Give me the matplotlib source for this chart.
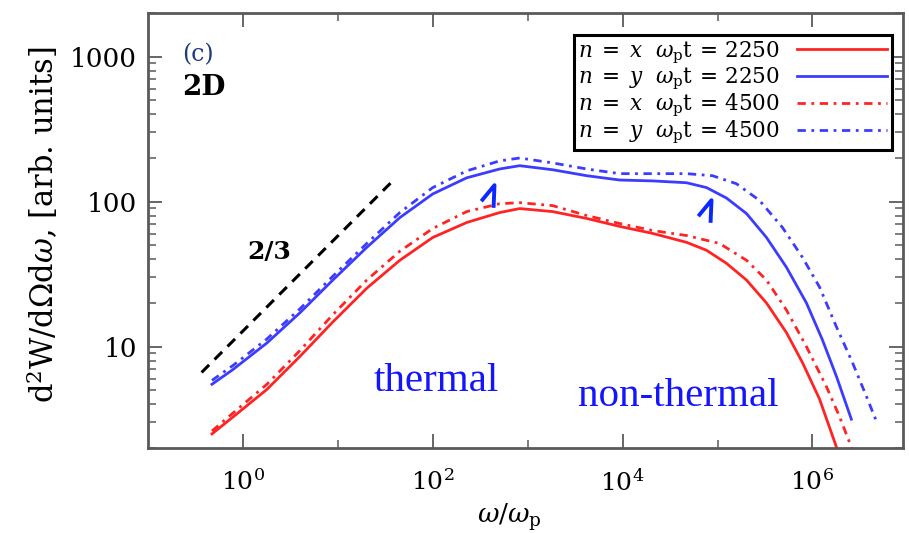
import matplotlib.pyplot as plt
from matplotlib.path import Path
from matplotlib.ticker import NullFormatter, FixedLocator, LogLocator
import numpy as np

plt.rcParams['font.family'] = ['DejaVu Serif']
plt.rcParams['mathtext.fontset'] = 'dejavuserif'

# omega / omega_p positions (shared by all four curves)
omega = [0.472, 0.785, 1.79, 3.98, 8.86, 20.2, 45.0, 100, 228, 507, 824,
         1830, 4180, 9300, 2.07e4, 4.72e4]

# n=x, w_p t=2250 (red solid)
red_2250_x = omega + [7.66e4, 1.24e5, 2.02e5, 3.28e5, 5.32e5, 7.85e5, 1.19e6, 1.79e6, 2.17e6]
red_2250_y = [2.50, 3.27, 5.07, 8.55, 14.8, 25.3, 39.4, 56.6, 71.8, 84.1, 89.6,
              85.4, 76.6, 67.5, 60.4, 52.4,
              46.2, 37.6, 28.8, 20.0, 12.5, 7.77, 4.34, 2.03, 1.44]
# n=y, w_p t=2250 (blue solid)
blue_2250_x = omega + [7.66e4, 1.24e5, 2.02e5, 3.28e5, 5.32e5, 8.65e5, 1.27e6, 1.79e6, 2.57e6]
blue_2250_y = [5.50, 6.95, 10.6, 17.1, 28.8, 48.4, 77.6, 113, 146, 168, 177,
               166, 151, 141, 139, 135,
               125, 106, 82.8, 56.6, 35.3, 20.0, 11.2, 6.24, 3.16]
# n=x, w_p t=4500 (red dash-dot)
red_4500_x = omega + [1.05e5, 2.02e5, 3.28e5, 5.32e5, 8.65e5, 1.40e6, 1.92e6, 2.57e6, 2.98e6]
red_4500_y = [2.62, 3.48, 5.50, 9.39, 16.6, 28.8, 45.5, 65.3, 85.4, 96.8, 98.4,
              93.9, 80.2, 70.7, 63.2, 58.4,
              51.5, 39.4, 28.8, 17.9, 10.0, 5.32, 3.32, 2.03, 1.48]
# n=y, w_p t=4500 (blue dash-dot)
blue_4500_x = omega + [8.85e4, 1.58e5, 2.77e5, 4.83e5, 7.85e5, 1.19e6, 1.79e6, 2.64e6, 3.70e6, 4.72e6]
blue_4500_y = [5.85, 7.41, 11.3, 18.2, 30.6, 51.5, 84.1, 125, 163, 191, 200,
               185, 168, 156, 156, 156,
               151, 133, 102, 66.4, 41.3, 25.7, 13.7, 7.77, 4.55, 3.06]

# 2/3 reference slope
slope_x = [0.367, 37.9]
slope_y = [6.64, 139]

# small arrows marking the thermal and non-thermal humps
arrow_x = [439, 8.55e4]
arrow_y = [110, 86.8]

labels = [r'$n\;=\;x$  $\omega_{\rm p}{\rm t}\,=\,2250$',
          r'$n\;=\;y$  $\omega_{\rm p}{\rm t}\,=\,2250$',
          r'$n\;=\;x$  $\omega_{\rm p}{\rm t}\,=\,4500$',
          r'$n\;=\;y$  $\omega_{\rm p}{\rm t}\,=\,4500$']

red = '#ff2424'
blue = '#3c3cff'
dashdot = (0, (3, 2, 1, 2))

fig = plt.figure(figsize=(9.09, 5.33), dpi=100)
ax = fig.add_axes([0.1628, 0.1595, 0.8306, 0.8161])

ax.plot(red_2250_x, red_2250_y, color=red, lw=2, label=labels[0])
ax.plot(blue_2250_x, blue_2250_y, color=blue, lw=2, label=labels[1])
ax.plot(red_4500_x, red_4500_y, color=red, lw=2, ls=dashdot, label=labels[2])
ax.plot(blue_4500_x, blue_4500_y, color=blue, lw=2, ls=dashdot, label=labels[3])
ax.plot(slope_x, slope_y, color='black', lw=2.2, ls=(0, (3.5, 2.5)))

caret = Path([(-14, -5), (0, 12), (-1, -12)], [Path.MOVETO, Path.LINETO, Path.LINETO])
ax.plot(arrow_x, arrow_y, ls='none', marker=caret, markersize=19,
        markerfacecolor='none', markeredgecolor='#0a28ff', markeredgewidth=2.8)

ax.set_xscale('log')
ax.set_yscale('log')
ax.set_xlim(0.1, 9e6)
ax.set_ylim(2, 2000)

ax.xaxis.set_major_locator(FixedLocator([1, 1e2, 1e4, 1e6]))
ax.xaxis.set_minor_locator(FixedLocator([10, 1e3, 1e5]))
ax.xaxis.set_minor_formatter(NullFormatter())
ax.set_xticklabels([r'$10^0$', r'$10^2$', r'$10^4$', r'$10^6$'])
ax.yaxis.set_major_locator(FixedLocator([10, 100, 1000]))
ax.yaxis.set_minor_locator(LogLocator(base=10, subs=np.arange(2, 10)))
ax.yaxis.set_minor_formatter(NullFormatter())
ax.set_yticklabels(['10', '100', '1000'])

for s in ax.spines.values():
    s.set_color('#5a5a5a')
    s.set_linewidth(2)
ax.tick_params(which='both', direction='in', top=True, right=True, color='#5a5a5a')
ax.tick_params(which='major', length=10, width=1.3)
ax.tick_params(which='minor', length=6, width=1.1)
ax.tick_params(axis='y', pad=8, labelsize=19)
ax.tick_params(axis='x', pad=15, labelsize=18)

ax.set_xlabel(r'$\omega/\omega_{\rm p}$', fontsize=19)
ax.xaxis.set_label_coords(0.479, -0.122)
ax.set_ylabel(r'd$^2$W/d$\Omega$d$\omega$, [arb. units]', fontsize=22)
ax.yaxis.set_label_coords(-0.115, 0.513)

ax.text(0.045, 0.903, '(c)', transform=ax.transAxes, fontsize=17,
        color='#203a80', va='center')
ax.text(0.045, 0.828, '2D', transform=ax.transAxes, fontsize=20,
        fontweight='bold', va='center')
ax.text(0.131, 0.451, '2/3', transform=ax.transAxes, fontsize=18,
        fontweight='bold', va='center')
ax.text(0.299, 0.131, 'thermal', transform=ax.transAxes, fontsize=29.5,
        family='Liberation Serif', color='#1414ff', va='baseline')
ax.text(0.570, 0.0966, 'non-thermal', transform=ax.transAxes, fontsize=29.5,
        family='Liberation Serif', color='#1414ff', va='baseline')

leg = ax.legend(loc='upper right', bbox_to_anchor=(0.985, 0.949), fontsize=15.5,
                handlelength=4.2, fancybox=False, edgecolor='black',
                markerfirst=False, borderaxespad=0, borderpad=0.2,
                labelspacing=0.0, handletextpad=0.8, framealpha=1)
leg.get_frame().set_linewidth(2.2)

fig.savefig('out.png', dpi=100)
